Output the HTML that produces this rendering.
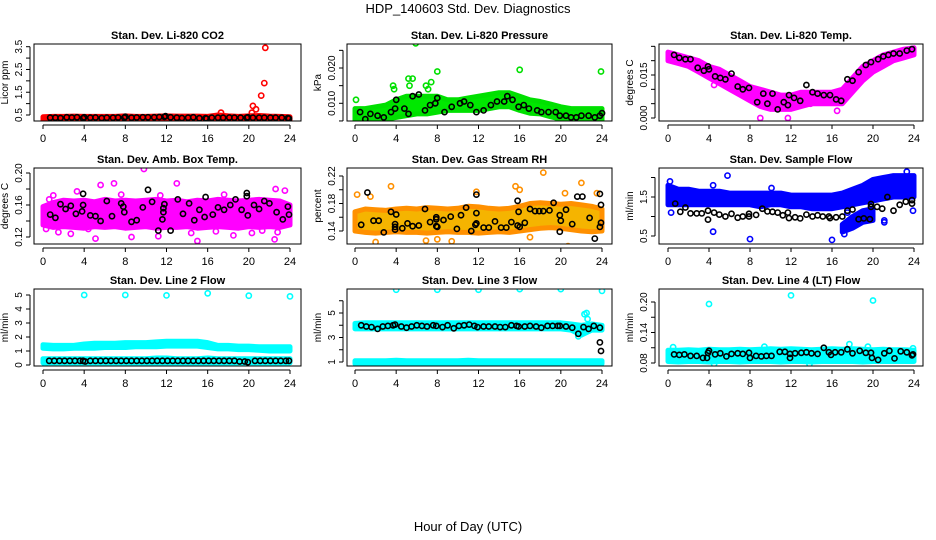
<!DOCTYPE html>
<html><head><meta charset="utf-8">
<style>
html,body{margin:0;padding:0;background:#fff;}
svg{display:block;font-family:"Liberation Sans",Arial,sans-serif;}
</style></head>
<body>
<svg id="chart" width="936" height="540" viewBox="0 0 936 540" xmlns="http://www.w3.org/2000/svg">
<rect x="0" y="0" width="936" height="540" fill="#fff"/>
<text x="468" y="13" text-anchor="middle" font-size="13">HDP_140603  Std. Dev. Diagnostics</text>
<text x="468" y="531" text-anchor="middle" font-size="13">Hour of Day (UTC)</text>
</svg>
<script>
// ---------- shared data ----------
const bandHours=[0,1,2,3,4,5,6,7,8,9,10,11,12,13,14,15,16,17,18,19,20,21,22,23,24];
const xTicks=[0,4,8,12,16,20,24];

// P1 CO2
const p1Lo=[0.28,0.28,0.28,0.28,0.28,0.28,0.28,0.28,0.28,0.28,0.28,0.28,0.28,0.28,0.28,0.28,0.28,0.28,0.28,0.28,0.28,0.28,0.28,0.28,0.28];
const p1Hi=[0.42,0.44,0.44,0.45,0.44,0.44,0.44,0.44,0.46,0.44,0.44,0.45,0.46,0.45,0.45,0.45,0.44,0.5,0.46,0.44,0.46,0.48,0.45,0.44,0.42];
const p1OutH=[17.3,20.3,20.4,20.7,21.2,21.5,21.6,0.1];
const p1OutV=[0.6,0.6,0.9,0.75,1.35,1.9,3.45,0.32];
const p1BlkH=[0.7,1.2,1.7,2.3,2.8,3.3,3.9,4.0,4.6,5.1,5.7,6.2,6.8,7.3,7.9,8.0,8.6,9.1,9.7,10.2,10.8,11.3,11.8,11.9,12.4,13.0,13.5,14.1,14.6,15.2,15.8,15.9,16.4,17.0,17.5,18.1,18.6,19.2,19.8,19.9,20.4,21.0,21.5,22.1,22.6,23.2,23.8,23.9];
const p1BlkV=[0.38,0.38,0.37,0.4,0.39,0.4,0.36,0.4,0.38,0.39,0.37,0.38,0.38,0.39,0.38,0.42,0.38,0.39,0.4,0.4,0.4,0.41,0.42,0.45,0.4,0.38,0.37,0.38,0.4,0.36,0.36,0.34,0.38,0.38,0.38,0.39,0.38,0.38,0.38,0.4,0.38,0.38,0.38,0.38,0.38,0.38,0.37,0.34];
const p1Ticks=[0.5,1.0,1.5,2.0,2.5,3.0,3.5];
const p1Labels=["0.5","","1.5","","2.5","","3.5"];

// P2 Pressure
const p2Lo=[0.005,0.005,0.005,0.0055,0.006,0.0065,0.007,0.007,0.0075,0.008,0.008,0.008,0.008,0.0085,0.009,0.009,0.008,0.0072,0.007,0.0062,0.0055,0.0052,0.005,0.005,0.005];
const p2Hi=[0.0085,0.0085,0.009,0.0095,0.011,0.012,0.012,0.012,0.012,0.011,0.011,0.0115,0.012,0.0125,0.013,0.013,0.012,0.011,0.0105,0.0098,0.009,0.0085,0.0085,0.0085,0.0085];
const p2OutH=[0.1,3.7,3.8,5.2,5.3,5.6,5.9,6.9,7.1,7.4,8.0,16.0,23.9];
const p2OutV=[0.011,0.015,0.014,0.017,0.015,0.017,0.027,0.015,0.014,0.016,0.019,0.0195,0.019];
const p2BlkH=[0.5,1.0,1.5,2.2,2.8,3.5,3.9,4.0,4.8,5.2,5.6,6.2,6.8,7.3,7.8,8.0,8.7,9.4,10.2,10.6,11.2,11.8,12.5,13.2,13.8,14.5,14.8,15.3,15.9,16.4,16.9,17.7,18.1,18.8,19.5,19.9,20.5,21.0,21.5,22.0,22.7,23.3,23.8,24.0];
const p2BlkV=[0.0075,0.0055,0.007,0.0065,0.006,0.0075,0.0085,0.011,0.0085,0.007,0.012,0.0125,0.008,0.0095,0.010,0.0115,0.0075,0.009,0.010,0.0105,0.0095,0.0075,0.008,0.0095,0.0105,0.0105,0.012,0.011,0.009,0.0095,0.0085,0.008,0.0075,0.0075,0.0075,0.0065,0.0065,0.006,0.006,0.0065,0.0065,0.006,0.0065,0.0072];
const p2Ticks=[0.005,0.010,0.015,0.020,0.025];
const p2Labels=["","0.010","","0.020",""];

// P3 Temp
const p3Lo=[0.020,0.019,0.018,0.016,0.014,0.012,0.010,0.008,0.006,0.004,0.003,0.003,0.003,0.004,0.005,0.005,0.005,0.005,0.009,0.013,0.016,0.018,0.020,0.021,0.022];
const p3Hi=[0.023,0.022,0.021,0.020,0.018,0.017,0.015,0.013,0.011,0.010,0.009,0.008,0.008,0.009,0.009,0.009,0.009,0.010,0.014,0.018,0.020,0.022,0.023,0.024,0.0245];
const p3OutH=[4.5,6.5,9.0,11.7,16.5,13.9];
const p3OutV=[0.0115,0.010,0.000,0.000,0.0025,0.005];
const p3BlkH=[0.6,1.1,1.7,2.2,2.9,3.5,3.9,4.0,4.6,5.1,5.6,6.2,6.8,7.3,7.9,8.7,9.3,9.7,10.2,10.7,11.3,11.7,11.8,12.3,12.9,13.5,14.1,14.6,15.2,15.8,16.4,16.9,17.5,18.0,18.6,19.3,19.8,20.5,21.0,21.5,22.0,22.6,23.3,23.8];
const p3BlkV=[0.022,0.021,0.0205,0.0205,0.0175,0.0165,0.018,0.017,0.0145,0.014,0.0135,0.0155,0.011,0.010,0.0105,0.0055,0.0085,0.005,0.0085,0.003,0.0055,0.0045,0.008,0.007,0.006,0.0115,0.009,0.0085,0.008,0.008,0.0065,0.006,0.0135,0.013,0.016,0.0185,0.0195,0.0205,0.0215,0.022,0.0225,0.0225,0.0235,0.024];
const p3Ticks=[0.000,0.005,0.010,0.015,0.020,0.025];
const p3Labels=["0.000","","","0.015","",""];

// P4 Amb box temp
const p4Lo=[0.135,0.132,0.133,0.132,0.131,0.133,0.132,0.133,0.131,0.132,0.133,0.131,0.132,0.132,0.133,0.131,0.132,0.133,0.132,0.131,0.133,0.132,0.133,0.132,0.135];
const p4Hi=[0.158,0.163,0.166,0.165,0.166,0.164,0.167,0.165,0.166,0.165,0.166,0.167,0.165,0.166,0.164,0.166,0.165,0.167,0.166,0.165,0.166,0.167,0.166,0.165,0.16];
const p4OutH=[0.3,0.6,1.0,1.5,2.7,3.3,4.4,5.1,5.6,6.9,7.6,8.6,9.8,11.2,11.4,13.0,14.4,15.0,16.8,17.6,18.5,20.3,21.3,22.5,22.6,23.5,22.8];
const p4OutV=[0.13,0.167,0.172,0.126,0.124,0.177,0.13,0.118,0.185,0.187,0.173,0.12,0.205,0.121,0.172,0.187,0.125,0.115,0.127,0.173,0.122,0.125,0.128,0.117,0.18,0.178,0.126];
const p4BlkH=[0.7,1.2,1.7,2.2,2.7,3.2,3.9,3.9,3.8,4.6,5.1,5.6,6.2,6.7,7.6,7.8,7.9,8.6,9.1,9.7,10.2,10.6,11.2,11.8,11.7,11.7,11.6,12.4,13.1,13.6,14.2,14.7,15.2,15.8,15.7,16.5,17.0,17.6,18.2,18.7,19.3,19.8,19.8,19.9,20.5,21.0,21.5,22.0,22.7,23.3,23.8,23.9];
const p4BlkV=[0.148,0.144,0.161,0.155,0.159,0.149,0.174,0.16,0.152,0.147,0.146,0.14,0.165,0.146,0.162,0.158,0.151,0.139,0.141,0.157,0.179,0.164,0.128,0.161,0.156,0.151,0.142,0.128,0.167,0.149,0.162,0.141,0.154,0.17,0.145,0.148,0.157,0.154,0.16,0.167,0.154,0.175,0.171,0.147,0.16,0.155,0.165,0.162,0.151,0.142,0.158,0.148];
const p4Ticks=[0.12,0.14,0.16,0.18,0.20];
const p4Labels=["0.12","","0.16","","0.20"];

// P5 RH
const p5Lo=[0.14,0.138,0.137,0.138,0.139,0.138,0.138,0.137,0.138,0.139,0.138,0.138,0.137,0.138,0.139,0.138,0.14,0.142,0.144,0.145,0.144,0.142,0.14,0.139,0.14];
const p5Hi=[0.168,0.172,0.171,0.17,0.172,0.173,0.172,0.174,0.173,0.172,0.173,0.176,0.175,0.173,0.172,0.173,0.176,0.18,0.181,0.18,0.179,0.18,0.178,0.176,0.172];
const p5OutH=[0.2,1.5,2.0,3.5,6.9,8.0,9.4,11.8,15.6,16.0,17.0,18.3,20.7,20.4,22.0,23.5];
const p5OutV=[0.193,0.19,0.124,0.205,0.126,0.128,0.125,0.197,0.205,0.2,0.131,0.225,0.118,0.195,0.21,0.195];
const p5BlkH=[0.6,1.2,1.8,2.3,2.8,3.5,3.9,4.0,3.9,3.9,4.6,5.1,5.6,6.2,6.8,7.3,7.9,7.9,7.9,8.0,8.6,9.3,9.9,10.3,10.8,11.3,11.8,11.8,11.8,11.7,12.5,13.0,13.6,14.2,14.7,15.2,15.8,15.9,15.8,16.0,16.5,17.0,17.5,17.9,18.3,18.9,19.3,19.9,19.9,20.0,20.5,21.1,21.6,22.1,22.8,23.3,23.8,23.9,23.9,23.8];
const p5BlkV=[0.149,0.196,0.155,0.155,0.138,0.168,0.15,0.164,0.142,0.146,0.144,0.151,0.147,0.148,0.172,0.153,0.16,0.157,0.147,0.146,0.156,0.161,0.143,0.163,0.174,0.14,0.193,0.166,0.151,0.149,0.145,0.145,0.154,0.145,0.145,0.153,0.184,0.168,0.148,0.146,0.152,0.172,0.169,0.169,0.169,0.17,0.181,0.163,0.139,0.155,0.171,0.15,0.19,0.19,0.159,0.129,0.194,0.178,0.152,0.146];
const p5Ticks=[0.14,0.16,0.18,0.20,0.22];
const p5Labels=["0.14","","0.18","","0.22"];

// P6 Sample flow
const p6Lo=[1.3,1.3,1.3,1.3,1.3,1.3,1.3,1.3,1.3,1.25,1.3,1.3,1.25,1.25,1.2,1.2,1.2,1.25,1.3,1.35,1.4,1.45,1.5,1.5,1.5];
const p6Hi=[1.8,1.7,1.7,1.65,1.65,1.65,1.6,1.6,1.6,1.6,1.6,1.6,1.55,1.55,1.55,1.55,1.55,1.6,1.7,1.8,1.95,2.0,2.05,2.05,2.05];
const p6Band2H=[17,18,19,20];
const p6Band2Lo=[0.6,0.7,0.85,0.9];
const p6Band2Hi=[0.8,1.0,1.15,1.2];
const p6OutH=[0.2,0.3,4.4,4.4,5.8,8.0,10.1,16.0,17.2,17.5,23.9,23.3,21.1,21.1];
const p6OutV=[1.9,1.1,0.61,1.8,2.05,0.42,1.73,0.4,0.55,1.1,1.15,2.15,0.9,0.85];
const p6BlkH=[0.7,1.2,1.7,2.2,2.8,3.3,3.9,3.9,4.5,5.0,5.6,6.2,6.8,7.3,7.9,7.9,8.6,9.2,9.7,10.2,10.7,11.2,11.7,11.8,12.4,12.9,13.5,14.1,14.6,15.1,15.7,15.8,16.4,17.0,17.5,18.0,18.6,19.1,19.7,19.8,19.8,20.4,20.9,21.4,22.0,22.6,23.2,23.8,23.8];
const p6BlkV=[1.33,1.12,1.23,1.08,1.08,1.08,0.92,1.15,1.1,1.05,1.0,1.07,0.97,1.0,1.07,1.0,1.04,1.2,1.13,1.12,1.1,1.03,1.1,0.96,0.98,0.95,1.05,1.0,1.03,1.0,1.0,0.96,0.98,1.0,1.15,1.18,0.93,0.95,0.93,1.25,1.32,1.25,1.2,1.5,1.15,1.3,1.38,1.42,1.33];
const p6Ticks=[0.5,1.0,1.5,2.0];
const p6Labels=["0.5","","1.5",""];

// P7 Line 2
const p7Lo=[1.2,1.15,1.15,1.2,1.2,1.2,1.25,1.25,1.25,1.3,1.3,1.3,1.35,1.35,1.35,1.35,1.25,1.15,1.15,1.1,1.1,1.05,1.0,1.0,1.0];
const p7Hi=[1.45,1.4,1.4,1.4,1.5,1.55,1.55,1.55,1.6,1.6,1.6,1.65,1.7,1.7,1.7,1.7,1.6,1.4,1.4,1.35,1.35,1.3,1.3,1.3,1.3];
const p7Band2Lo=[0.15,0.15,0.15,0.15,0.15,0.15,0.15,0.15,0.15,0.15,0.15,0.15,0.15,0.15,0.15,0.15,0.15,0.15,0.15,0.15,0.15,0.15,0.15,0.15,0.15];
const p7Band2Hi=[0.45,0.45,0.45,0.45,0.45,0.45,0.45,0.45,0.45,0.45,0.45,0.5,0.5,0.45,0.45,0.45,0.5,0.45,0.45,0.45,0.45,0.45,0.45,0.45,0.45];
const p7OutH=[4.0,8.0,12.0,16.0,20.0,24.0,0.2];
const p7OutV=[5.0,5.0,4.97,5.12,4.95,4.9,0.1];
const p7BlkH=[0.6,1.1,1.6,2.1,2.6,3.1,3.6,3.9,4.1,4.6,5.1,5.6,6.1,6.6,7.1,7.6,8.1,8.6,9.1,9.6,10.1,10.6,11.1,11.6,12.1,12.6,13.1,13.6,14.1,14.6,15.1,15.6,16.1,16.6,17.1,17.6,18.1,18.6,19.1,19.6,19.9,20.6,21.1,21.6,22.1,22.6,23.1,23.6,23.9];
const p7BlkV=[0.3,0.3,0.3,0.3,0.3,0.3,0.3,0.3,0.25,0.3,0.3,0.3,0.3,0.3,0.3,0.3,0.3,0.3,0.3,0.3,0.3,0.3,0.3,0.3,0.3,0.3,0.3,0.3,0.3,0.3,0.3,0.3,0.3,0.3,0.3,0.3,0.3,0.3,0.25,0.25,0.2,0.3,0.3,0.3,0.3,0.3,0.3,0.3,0.3];
const p7Ticks=[0,1,2,3,4,5];
const p7Labels=["0","1","2","3","4","5"];

// P8 Line 3
const p8Lo=[3.7,3.7,3.7,3.7,3.7,3.7,3.7,3.7,3.7,3.7,3.7,3.7,3.7,3.7,3.7,3.7,3.7,3.7,3.7,3.7,3.7,3.6,3.2,3.6,3.6];
const p8Hi=[4.15,4.2,4.2,4.2,4.2,4.2,4.2,4.2,4.2,4.2,4.2,4.2,4.2,4.2,4.2,4.2,4.2,4.2,4.2,4.2,4.2,4.1,4.0,4.1,4.0];
const p8Band2Lo=[0.85,0.85,0.85,0.85,0.85,0.85,0.85,0.85,0.85,0.85,0.85,0.85,0.85,0.85,0.85,0.85,0.85,0.85,0.85,0.85,0.85,0.85,0.85,0.85,0.85];
const p8Band2Hi=[1.1,1.1,1.1,1.1,1.15,1.1,1.1,1.1,1.1,1.1,1.1,1.15,1.1,1.1,1.1,1.1,1.1,1.1,1.1,1.1,1.1,1.1,1.1,1.1,1.1];
const p8OutH=[4.0,8.0,12.0,16.0,20.0,24.0,22.3,22.5,22.6,21.7];
const p8OutV=[6.9,6.9,6.9,6.95,6.95,6.8,4.9,5.0,4.5,3.1];
const p8BlkH=[0.6,1.1,1.6,2.2,2.7,3.2,3.7,3.9,4.5,5.0,5.5,6.0,6.5,7.0,7.6,7.9,8.5,9.0,9.6,10.1,10.6,11.1,11.6,11.9,12.5,13.0,13.6,14.1,14.6,15.2,15.7,15.9,16.5,17.0,17.6,18.1,18.7,19.2,19.7,19.9,20.5,21.1,21.7,22.2,22.7,23.2,23.8,23.8,23.9];
const p8BlkV=[4.0,3.9,3.85,3.7,3.9,3.95,4.0,4.05,3.9,3.8,3.9,4.0,3.95,3.9,4.0,3.95,3.85,4.0,3.75,3.95,4.0,4.05,3.95,3.85,3.9,3.9,3.9,3.85,3.85,4.0,3.95,3.9,3.9,3.95,3.9,3.8,3.95,3.95,3.95,3.95,3.9,3.8,3.3,3.85,3.7,3.95,3.8,2.6,1.9];
const p8Ticks=[1,2,3,4,5,6];
const p8Labels=["1","","3","","5",""];

// P9 Line 4
const p9Lo=[0.083,0.082,0.083,0.083,0.082,0.083,0.083,0.082,0.083,0.083,0.083,0.082,0.083,0.083,0.082,0.083,0.083,0.083,0.083,0.082,0.083,0.083,0.083,0.083,0.083];
const p9Hi=[0.105,0.105,0.106,0.105,0.107,0.106,0.106,0.107,0.106,0.107,0.108,0.107,0.108,0.107,0.106,0.107,0.108,0.107,0.108,0.107,0.106,0.107,0.106,0.106,0.105];
const p9OutH=[4.0,12.0,20.0,0.5,4.5,13.8,17.7,19.5,0.2,9.4,23.9];
const p9OutV=[0.196,0.213,0.203,0.111,0.078,0.078,0.117,0.112,0.098,0.112,0.109];
const p9BlkH=[0.6,1.1,1.6,2.2,2.8,3.4,3.8,3.9,4.0,4.6,5.1,5.7,6.2,6.8,7.3,7.9,8.0,8.6,9.1,9.6,10.1,10.9,11.4,11.9,11.9,12.4,13.0,13.5,14.0,14.6,15.2,15.7,15.9,16.3,16.9,17.5,18.0,18.7,19.3,19.8,19.9,20.5,21.1,21.6,22.1,22.7,23.3,23.8,23.9];
const p9BlkV=[0.097,0.096,0.097,0.094,0.094,0.09,0.09,0.1,0.104,0.097,0.099,0.093,0.098,0.099,0.098,0.1,0.09,0.094,0.093,0.094,0.094,0.102,0.102,0.09,0.098,0.099,0.1,0.101,0.099,0.098,0.11,0.101,0.096,0.101,0.101,0.107,0.099,0.104,0.1,0.1,0.09,0.086,0.099,0.104,0.089,0.103,0.101,0.095,0.097];
const p9Ticks=[0.08,0.11,0.14,0.17,0.20];
const p9Labels=["0.08","","0.14","","0.20"];

// ---------- layout (not data) ----------
const cols=[{l:34,r:301,x0:43,x24:290},{l:347,r:612,x0:355,x24:602},{l:659,r:923,x0:668,x24:914}];
const rows=[{t:44,b:121},{t:168,b:244},{t:289,b:366}];
const NS="http://www.w3.org/2000/svg";
const svg=document.getElementById('chart');
function mk(tag,attrs,parent){const e=document.createElementNS(NS,tag);for(const k in attrs)e.setAttribute(k,attrs[k]);(parent||svg).appendChild(e);return e;}

const panels=[
 {key:'co2',title:'Stan. Dev. Li-820 CO2',ylab:'Licor ppm',c:0,r:0,ref:[0.5,115,3.5,46.7],col:'#ff0000',fill:'#ff0000',lo:p1Lo,hi:p1Hi,oh:p1OutH,ov:p1OutV,bh:p1BlkH,bv:p1BlkV,ticks:p1Ticks,labels:p1Labels},
 {key:'pressure',title:'Stan. Dev. Li-820 Pressure',ylab:'kPa',c:1,r:0,ref:[0.010,103.3,0.020,68],col:'#00e000',fill:'#00e800',lo:p2Lo,hi:p2Hi,oh:p2OutH,ov:p2OutV,bh:p2BlkH,bv:p2BlkV,ticks:p2Ticks,labels:p2Labels},
 {key:'temp',title:'Stan. Dev. Li-820 Temp.',ylab:'degrees C',c:2,r:0,ref:[0.0,118,0.015,75],col:'#ff00ff',fill:'#ff00ff',lo:p3Lo,hi:p3Hi,oh:p3OutH,ov:p3OutV,bh:p3BlkH,bv:p3BlkV,ticks:p3Ticks,labels:p3Labels},
 {key:'ambbox',title:'Stan. Dev. Amb. Box Temp.',ylab:'degrees C',c:0,r:1,ref:[0.12,237,0.20,173],col:'#ff00ff',fill:'#ff00ff',lo:p4Lo,hi:p4Hi,oh:p4OutH,ov:p4OutV,bh:p4BlkH,bv:p4BlkV,ticks:p4Ticks,labels:p4Labels},
 {key:'rh',title:'Stan. Dev. Gas Stream RH',ylab:'percent',c:1,r:1,ref:[0.14,231,0.22,176],col:'#ff9000',fill:'#f5b400',lo:p5Lo,hi:p5Hi,oh:p5OutH,ov:p5OutV,bh:p5BlkH,bv:p5BlkV,ticks:p5Ticks,labels:p5Labels},
 {key:'sampleflow',title:'Stan. Dev. Sample Flow',ylab:'ml/min',c:2,r:1,ref:[0.5,236,1.5,197],col:'#0000ff',fill:'#0000ff',lo:p6Lo,hi:p6Hi,b2h:p6Band2H,b2lo:p6Band2Lo,b2hi:p6Band2Hi,oh:p6OutH,ov:p6OutV,bh:p6BlkH,bv:p6BlkV,ticks:p6Ticks,labels:p6Labels},
 {key:'line2',title:'Stan. Dev. Line 2 Flow',ylab:'ml/min',c:0,r:2,ref:[0,365,5,295],col:'#00ffff',fill:'#00ffff',lo:p7Lo,hi:p7Hi,b2h:bandHours,b2lo:p7Band2Lo,b2hi:p7Band2Hi,oh:p7OutH,ov:p7OutV,bh:p7BlkH,bv:p7BlkV,ticks:p7Ticks,labels:p7Labels},
 {key:'line3',title:'Stan. Dev. Line 3 Flow',ylab:'ml/min',c:1,r:2,ref:[1,362,5,313],col:'#00ffff',fill:'#00ffff',lo:p8Lo,hi:p8Hi,b2h:bandHours,b2lo:p8Band2Lo,b2hi:p8Band2Hi,oh:p8OutH,ov:p8OutV,bh:p8BlkH,bv:p8BlkV,ticks:p8Ticks,labels:p8Labels},
 {key:'line4',title:'Stan. Dev. Line 4 (LT) Flow',ylab:'ml/min',c:2,r:2,ref:[0.08,363,0.20,302],col:'#00ffff',fill:'#00ffff',lo:p9Lo,hi:p9Hi,oh:p9OutH,ov:p9OutV,bh:p9BlkH,bv:p9BlkV,ticks:p9Ticks,labels:p9Labels}
];

panels.forEach(p=>{
  const C=cols[p.c],R=rows[p.r];
  const xs=h=>C.x0+(h/24)*(C.x24-C.x0);
  const ys=v=>p.ref[1]+(v-p.ref[0])*(p.ref[3]-p.ref[1])/(p.ref[2]-p.ref[0]);
  const g=mk('g',{});
  
  
  const clipId='clip-'+p.key;
  const cp=mk('clipPath',{id:clipId},g);
  mk('rect',{x:C.l,y:R.t,width:C.r-C.l,height:R.b-R.t},cp);
  const plot=mk('g',{'clip-path':'url(#'+clipId+')'},g);
  function band(hs,lo,hi,name){
    let pts=[];
    for(let i=0;i<hs.length;i++)pts.push(xs(hs[i]).toFixed(1)+','+ys(hi[i]).toFixed(1));
    for(let i=hs.length-1;i>=0;i--)pts.push(xs(hs[i]).toFixed(1)+','+ys(lo[i]).toFixed(1));
    const e=mk('polygon',{points:pts.join(' '),fill:p.fill,stroke:p.col,'stroke-width':5,'stroke-linejoin':'round'},plot);
    
    
  }
  band(bandHours,p.lo,p.hi,p.key+'-point-cloud');
  if(p.b2h)band(p.b2h,p.b2lo,p.b2hi,p.key+'-point-cloud-2');
  function pts(hs,vs,color,name){
    for(let i=0;i<hs.length;i++){
      const e=mk('circle',{cx:xs(hs[i]).toFixed(1),cy:ys(vs[i]).toFixed(1),r:2.6,fill:'none',stroke:color,'stroke-width':1.6},plot);
      
      
    }
  }
  pts(p.oh,p.ov,p.col,p.key+'-point');
  pts(p.bh,p.bv,'#000',p.key+'-reference-point');
  // box
  const box=mk('rect',{x:C.l,y:R.t,width:C.r-C.l,height:R.b-R.t,fill:'none',stroke:'#000','stroke-width':1},g);
  
  
  // title
  const t=mk('text',{x:(C.l+C.r)/2,y:R.t-5,'text-anchor':'middle','font-size':11,'font-weight':'bold'},g);
  t.textContent=p.title;
  
  
  // x axis
  const ax=mk('g',{},g);
  
  
  const ya=R.b+4;
  mk('line',{x1:xs(xTicks[0]),x2:xs(xTicks[xTicks.length-1]),y1:ya,y2:ya,stroke:'#000'},ax);
  xTicks.forEach(tv=>{
    mk('line',{x1:xs(tv),x2:xs(tv),y1:ya,y2:ya+4,stroke:'#000'},ax);
    const tl=mk('text',{x:xs(tv),y:R.b+21,'text-anchor':'middle','font-size':11},ax);
    tl.textContent=tv;
  });
  // y axis
  const ay=mk('g',{},g);
  
  
  const xa=C.l-4;
  mk('line',{x1:xa,x2:xa,y1:ys(p.ticks[0]),y2:ys(p.ticks[p.ticks.length-1]),stroke:'#000'},ay);
  p.ticks.forEach((tv,i)=>{
    const yy=ys(tv);
    mk('line',{x1:xa-4,x2:xa,y1:yy,y2:yy,stroke:'#000'},ay);
    if(p.labels[i]){
      const tl=mk('text',{x:0,y:0,'text-anchor':'middle','font-size':10,transform:`translate(${xa-8},${yy}) rotate(-90)`},ay);
      tl.textContent=p.labels[i];
    }
  });
  const yl=mk('text',{x:0,y:0,'text-anchor':'middle','font-size':10,transform:`translate(${C.l-26},${(R.t+R.b)/2}) rotate(-90)`},g);
  yl.textContent=p.ylab;
  
  
});
</script>
</body></html>
